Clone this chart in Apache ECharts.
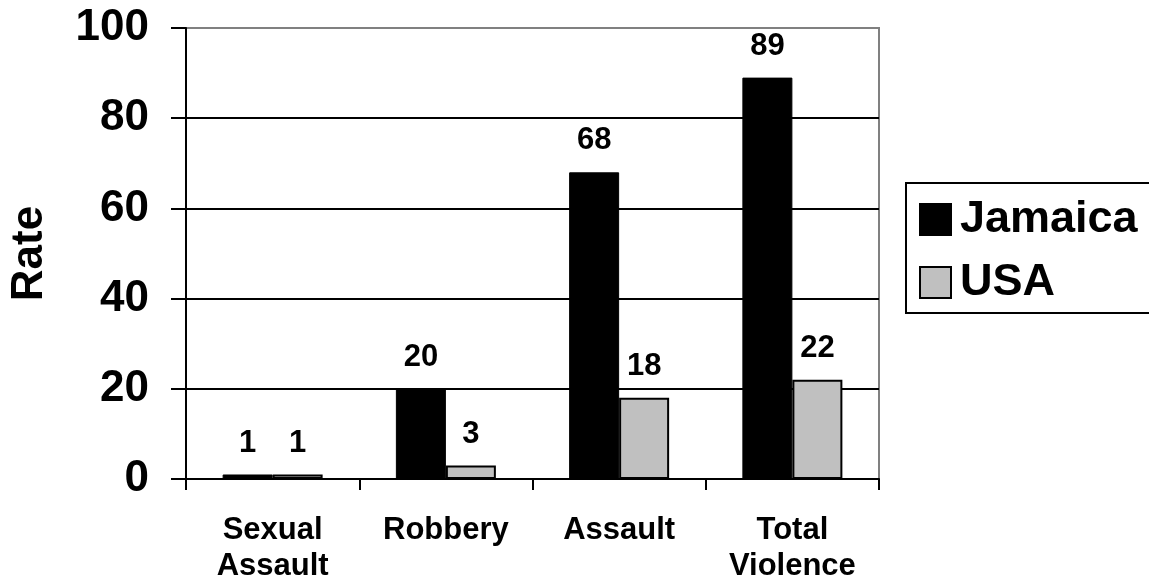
<!DOCTYPE html>
<html>
<head>
<meta charset="utf-8">
<script src="https://cdn.jsdelivr.net/npm/echarts@6/dist/echarts.min.js"></script>
<style>
html,body{margin:0;padding:0;background:#fff;}
#c{width:1149px;height:584px;}
</style>
</head>
<body>
<div id="c"></div>
<script>
const categories = ['Sexual\nAssault', 'Robbery', 'Assault', 'Total\nViolence'];
const jamaica = [1, 20, 68, 89];
const usa = [1, 3, 18, 22];
const yTicks = [0, 20, 40, 60, 80, 100];
const seriesNames = ['Jamaica', 'USA'];

const FONT = '"Liberation Sans", Arial, sans-serif';
const chart = echarts.init(document.getElementById('c'));
chart.setOption({
  animation: false,
  backgroundColor: '#fff',
  grid: {
    left: 186, right: 270, top: 28, bottom: 105,
    show: true, borderColor: '#808080', borderWidth: 2, backgroundColor: 'transparent'
  },
  legend: {
    data: seriesNames,
    orient: 'vertical',
    left: 906, top: 183,
    padding: [14, 20, 8, 13],
    itemWidth: 31, itemHeight: 31, itemGap: 18,
    borderColor: '#000', borderWidth: 2,
    icon: 'rect',
    textStyle: { fontFamily: FONT, fontWeight: 'bold', fontSize: 45, color: '#000', padding: [0, 0, 0, 4] }
  },
  xAxis: {
    type: 'category',
    data: categories,
    axisLine: { lineStyle: { color: '#000', width: 2 } },
    axisTick: { show: true, length: 11, lineStyle: { color: '#000', width: 2 } },
    axisLabel: { fontFamily: FONT, fontWeight: 'bold', fontSize: 31, color: '#000', margin: 33, lineHeight: 36, interval: 0 }
  },
  yAxis: {
    type: 'value',
    min: yTicks[0], max: yTicks[yTicks.length - 1], interval: 20,
    name: 'Rate',
    nameLocation: 'middle',
    nameGap: 134,
    nameRotate: 90,
    nameTextStyle: { fontFamily: FONT, fontWeight: 'bold', fontSize: 44, color: '#000' },
    axisLine: { show: true, lineStyle: { color: '#000', width: 2 } },
    axisTick: { show: true, length: 15, lineStyle: { color: '#000', width: 2 } },
    axisLabel: { fontFamily: FONT, fontWeight: 'bold', fontSize: 44, color: '#000', margin: 37 },
    splitLine: { show: true, showMaxLine: false, lineStyle: { color: '#000', width: 2 } }
  },
  series: [
    {
      name: seriesNames[0], type: 'bar', data: jamaica,
      barWidth: 50, barGap: '0%',
      itemStyle: { color: '#000', borderColor: '#000', borderWidth: 1 },
      label: { show: true, position: 'top', distance: 16, fontFamily: FONT, fontWeight: 'bold', fontSize: 31, color: '#000' }
    },
    {
      name: seriesNames[1], type: 'bar', data: usa,
      barWidth: 50, barGap: '0%',
      itemStyle: { color: '#c0c0c0', borderColor: '#000', borderWidth: 2 },
      label: { show: true, position: 'top', distance: 16, fontFamily: FONT, fontWeight: 'bold', fontSize: 31, color: '#000' }
    }
  ]
});
</script>
</body>
</html>
